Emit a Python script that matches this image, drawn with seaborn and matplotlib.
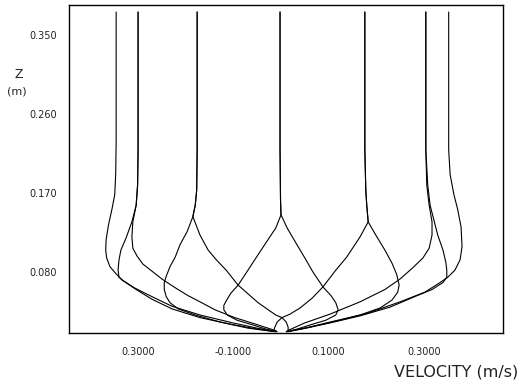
import matplotlib
matplotlib.use("Agg")
import matplotlib.pyplot as plt
import matplotlib.font_manager as fm
import seaborn as sns
import pandas as pd

# ---- data (velocity u in m/s, height z in m) ----
u_p180 = [-0.346, -0.346, -0.347, -0.349, -0.355, -0.362, -0.367, -0.368, -0.366, -0.359, -0.348, -0.334, -0.304, -0.271, -0.229, -0.170, -0.101, -0.050, -0.011]
z_p180 = [0.376, 0.230, 0.191, 0.168, 0.151, 0.134, 0.117, 0.105, 0.096, 0.086, 0.079, 0.071, 0.060, 0.049, 0.038, 0.028, 0.020, 0.015, 0.012]

u_p150 = [-0.300, -0.300, -0.301, -0.304, -0.313, -0.325, -0.336, -0.340, -0.342, -0.340, -0.331, -0.308, -0.275, -0.229, -0.170, -0.101, -0.050, -0.010]
z_p150 = [0.376, 0.219, 0.179, 0.156, 0.137, 0.119, 0.105, 0.094, 0.082, 0.074, 0.070, 0.062, 0.053, 0.041, 0.031, 0.022, 0.016, 0.012]

u_p210 = [-0.300, -0.300, -0.301, -0.304, -0.311, -0.313, -0.311, -0.302, -0.290, -0.271, -0.250, -0.222, -0.195, -0.170, -0.139, -0.097, -0.050, -0.010]
z_p210 = [0.376, 0.219, 0.179, 0.156, 0.137, 0.120, 0.107, 0.098, 0.089, 0.081, 0.072, 0.062, 0.053, 0.046, 0.037, 0.028, 0.020, 0.013]

u_p120 = [-0.176, -0.176, -0.177, -0.180, -0.185, -0.197, -0.212, -0.222, -0.233, -0.241, -0.245, -0.245, -0.241, -0.233, -0.216, -0.180, -0.128, -0.069, -0.013]
z_p120 = [0.376, 0.219, 0.173, 0.156, 0.143, 0.126, 0.111, 0.097, 0.086, 0.075, 0.068, 0.060, 0.052, 0.045, 0.038, 0.031, 0.023, 0.016, 0.012]

u_p240 = [-0.176, -0.176, -0.177, -0.180, -0.185, -0.170, -0.153, -0.136, -0.115, -0.090, -0.069, -0.048, -0.027, -0.011, 0.002, 0.011, 0.015, 0.015]
z_p240 = [0.376, 0.219, 0.173, 0.156, 0.143, 0.122, 0.105, 0.094, 0.082, 0.065, 0.055, 0.045, 0.037, 0.031, 0.028, 0.023, 0.017, 0.013]

u_p90 = [-0.002, -0.002, -0.001, 0.000, -0.011, -0.027, -0.055, -0.073, -0.090, -0.105, -0.113, -0.120, -0.120, -0.113, -0.092, -0.061, -0.032, -0.008]
z_p90 = [0.376, 0.219, 0.162, 0.145, 0.130, 0.117, 0.094, 0.079, 0.065, 0.056, 0.049, 0.042, 0.037, 0.031, 0.025, 0.020, 0.015, 0.012]

u_p270 = [-0.002, -0.002, -0.001, 0.000, 0.013, 0.027, 0.050, 0.067, 0.088, 0.105, 0.115, 0.120, 0.115, 0.094, 0.063, 0.034, 0.013]
z_p270 = [0.376, 0.219, 0.162, 0.145, 0.130, 0.117, 0.096, 0.080, 0.063, 0.053, 0.045, 0.037, 0.031, 0.025, 0.020, 0.015, 0.012]

u_p60 = [0.176, 0.176, 0.178, 0.180, 0.183, 0.166, 0.138, 0.115, 0.088, 0.065, 0.040, 0.019, 0.002, -0.008, -0.013, -0.015]
z_p60 = [0.376, 0.219, 0.173, 0.156, 0.137, 0.120, 0.097, 0.082, 0.063, 0.050, 0.039, 0.032, 0.028, 0.023, 0.017, 0.013]

u_p300 = [0.176, 0.176, 0.178, 0.180, 0.183, 0.199, 0.218, 0.233, 0.243, 0.248, 0.245, 0.233, 0.208, 0.166, 0.103, 0.050, 0.011]
z_p300 = [0.376, 0.219, 0.173, 0.156, 0.137, 0.122, 0.105, 0.090, 0.077, 0.065, 0.057, 0.048, 0.039, 0.031, 0.023, 0.016, 0.012]

u_p30 = [0.304, 0.304, 0.306, 0.311, 0.317, 0.317, 0.311, 0.298, 0.277, 0.250, 0.218, 0.166, 0.103, 0.050, 0.013]
z_p30 = [0.376, 0.219, 0.179, 0.156, 0.137, 0.122, 0.107, 0.096, 0.085, 0.072, 0.060, 0.046, 0.032, 0.022, 0.013]

u_p330 = [0.304, 0.304, 0.308, 0.313, 0.321, 0.329, 0.340, 0.346, 0.348, 0.348, 0.340, 0.317, 0.281, 0.229, 0.166, 0.103, 0.050, 0.011]
z_p330 = [0.376, 0.219, 0.179, 0.156, 0.139, 0.122, 0.105, 0.091, 0.082, 0.074, 0.068, 0.060, 0.052, 0.040, 0.030, 0.022, 0.016, 0.012]

u_p0 = [0.352, 0.352, 0.355, 0.363, 0.371, 0.378, 0.380, 0.376, 0.365, 0.350, 0.334, 0.302, 0.250, 0.187, 0.124, 0.061, 0.015]
z_p0 = [0.376, 0.219, 0.191, 0.168, 0.151, 0.131, 0.109, 0.094, 0.082, 0.074, 0.068, 0.057, 0.046, 0.034, 0.025, 0.017, 0.012]

x_ticks = [-0.3, -0.1, 0.1, 0.3]
x_tick_labels = ["0.3000", "-0.1000", "0.1000", "0.3000"]
y_ticks = [0.08, 0.17, 0.26, 0.35]
y_tick_labels = ["0.080", "0.170", "0.260", "0.350"]

curves = {
    "p180": (u_p180, z_p180), "p150": (u_p150, z_p150), "p210": (u_p210, z_p210),
    "p120": (u_p120, z_p120), "p240": (u_p240, z_p240), "p90": (u_p90, z_p90),
    "p270": (u_p270, z_p270), "p60": (u_p60, z_p60), "p300": (u_p300, z_p300),
    "p30": (u_p30, z_p30), "p330": (u_p330, z_p330), "p0": (u_p0, z_p0),
}
rows = []
for name, (us, zs) in curves.items():
    for i, (u, z) in enumerate(zip(us, zs)):
        rows.append({"curve": name, "order": i, "u": u, "z": z})
df = pd.DataFrame(rows)

sns.set_theme(style="white")
names = {f.name for f in fm.fontManager.ttflist}
narrow = "Liberation Sans Narrow" in names
tick_family = "Liberation Sans Narrow" if narrow else "DejaVu Sans"
tick_size = 8 if narrow else 7
plt.rcParams["font.family"] = ["DejaVu Sans"]

fig = plt.figure(figsize=(5.2, 3.84), dpi=100)
ax = fig.add_axes([69 / 520, 1 - 333 / 384, (503 - 69) / 520, (333 - 5) / 384])

sns.lineplot(data=df, x="u", y="z", units="curve", estimator=None, sort=False,
             color="black", linewidth=0.8, ax=ax)

ax.set_xlim(-0.445, 0.466)
ax.set_ylim(0.0105, 0.384)
ax.set_xlabel("")
ax.set_ylabel("")

ax.set_xticks(x_ticks)
ax.set_xticklabels(x_tick_labels, family=tick_family, fontsize=tick_size)
ax.set_yticks(y_ticks)
ax.set_yticklabels(y_tick_labels, family=tick_family, fontsize=tick_size)
ax.tick_params(axis="x", direction="out", length=3, width=0.8, color="black", pad=7, labelcolor="#222222")
ax.tick_params(axis="y", length=0, pad=9, labelcolor="#222222")

for s in ax.spines.values():
    s.set_color("black")
    s.set_linewidth(1.0)

fig.text(19 / 520, 1 - 75 / 384, "Z", ha="center", va="center", fontsize=9, color="#222222")
fig.text(17 / 520, 1 - 92 / 384, "(m)", ha="center", va="center", fontsize=8, color="#222222")
fig.text(518 / 520, 1 - 372 / 384, "VELOCITY (m/s)", ha="right", va="center", fontsize=11.5, color="#222222")

fig.savefig("out.png", dpi=100)
